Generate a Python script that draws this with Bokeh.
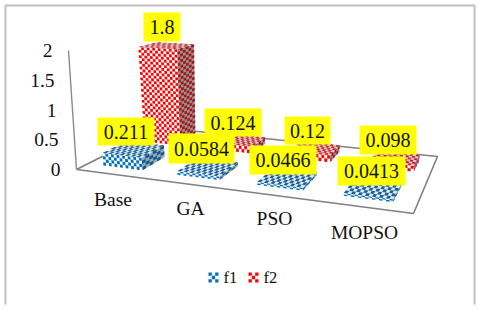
from bokeh.plotting import figure
from bokeh.models import Range1d, ColumnDataSource
from bokeh.embed import file_html
from bokeh.resources import INLINE
from bokeh.core.properties import value
import numpy as np

categories = ["Base", "GA", "PSO", "MOPSO"]
f1 = [0.211, 0.0584, 0.0466, 0.0413]
f2 = [1.8, 0.124, 0.12, 0.098]
f1_labels = ["0.211", "0.0584", "0.0466", "0.0413"]
f2_labels = ["1.8", "0.124", "0.12", "0.098"]
y_ticks = [0, 0.5, 1, 1.5, 2]
y_tick_labels = ["0", "0.5", "1", "1.5", "2"]

# layout only
F1_BOX = [(97, 154, 117, 145), (168, 234, 133, 163), (249, 316, 145, 174), (337, 405, 156, 185)]
F2_BOX = [(143, 180, 12, 41), (204, 261, 108, 136), (284, 330, 116, 144), (359, 416, 125, 154)]
CAT_POS = [(112.5, 199), (190, 208), (274, 218), (364, 232)]
FONT = value("Liberation Serif")

FL, FR, BR, BL = (76, 169), (413, 213), (437, 156), (159, 127)

def homography(src, dst):
    A, b = [], []
    for (u, v), (x, y) in zip(src, dst):
        A.append([u, v, 1, 0, 0, 0, -u * x, -v * x]); b.append(x)
        A.append([0, 0, 0, u, v, 1, -u * y, -v * y]); b.append(y)
    h = np.linalg.solve(np.array(A, float), np.array(b, float))
    return np.append(h, 1).reshape(3, 3)

H = homography([(0, 0), (1, 0), (1, 1), (0, 1)], [FL, FR, BR, BL])

def project(u, v, w=0.0):
    q = H @ np.array([u, v, 1.0])
    x, y = q[0] / q[2], q[1] / q[2]
    h = w * (59.5 + 0.25 * (y - 169))
    tilt = min(max((210 - x) * 0.001, 0), 0.067)
    return np.array([x - h * tilt, y - h])

p = figure(width=480, height=314, x_range=Range1d(0, 480), y_range=Range1d(314, 0),
           toolbar_location=None, output_backend="svg", x_axis_location=None, y_axis_location=None,
           min_border=0, outline_line_color=None, margin=(0, 0, 0, 0))
p.grid.visible = False
p.background_fill_color = "white"

# page frame
p.line([5, 5, 474, 474], [304, 5, 5, 304], line_color="#bfbfbf", line_width=2)

# floor and axis
fx = [FL[0], FR[0], BR[0], BL[0], FL[0]]
fy = [FL[1], FR[1], BR[1], BL[1], FL[1]]
p.line(fx, fy, line_color="#808080", line_width=1.6)
ax_base = project(0, 0, 0)
ax_top = project(0, 0, max(y_ticks))
p.line([ax_base[0], ax_top[0]], [ax_base[1], ax_top[1]], line_color="#8a8a8a", line_width=1.4)

for t, lab in zip(y_ticks, y_tick_labels):
    a = project(0, 0, t)
    p.text([a[0] - 16], [a[1]], text=[lab], text_font=FONT, text_font_size="19.5px",
           text_align="right", text_baseline="middle", text_color="#111111")

def checker_face(c00, c10, c01, c11, nu, nv, light, dark):
    xs, ys = [], []
    for i in range(nu):
        for j in range(nv):
            if (i + j) % 2:
                continue
            def pt(a, b):
                return (1 - a) * (1 - b) * c00 + a * (1 - b) * c10 + (1 - a) * b * c01 + a * b * c11
            a0, a1, b0, b1 = i / nu, (i + 1) / nu, j / nv, (j + 1) / nv
            q = [pt(a0, b0), pt(a1, b0), pt(a1, b1), pt(a0, b1)]
            xs.append([float(c[0]) for c in q])
            ys.append([float(c[1]) for c in q])
    p.patch([float(c00[0]), float(c10[0]), float(c11[0]), float(c01[0])],
            [float(c00[1]), float(c10[1]), float(c11[1]), float(c01[1])],
            fill_color=light, line_color=None)
    p.patches(xs, ys, fill_color=dark, line_color=None)

BAR_W = 0.134
def bar(i, u_start, u_step, v0, v1, val, colors):
    uc = u_start + i * u_step
    u0, u1 = uc - BAR_W / 2, uc + BAR_W / 2
    f0, f_1, b1 = project(u0, v0), project(u1, v0), project(u1, v1)
    t00, t10, t01, t11 = project(u0, v0, val), project(u1, v0, val), project(u0, v1, val), project(u1, v1, val)
    nr = max(2, int(round(np.linalg.norm(f0 - t00) / 2.8)))
    # side
    checker_face(f_1, b1, t10, t11, 6, nr, colors["side_l"], colors["side_d"])
    # front
    checker_face(f0, f_1, t00, t10, 14, nr, "#ffffff", colors["front"])
    # top
    checker_face(t00, t10, t01, t11, 14, 6, colors["top_l"], colors["top_d"])

RED = dict(front="#ff0000", side_l="#b08a8a", side_d="#8f1f1f", top_l="#f0cccc", top_d="#b8272e")
BLUE = dict(front="#0070c0", side_l="#8fabc0", side_d="#1a5682", top_l="#e0eaf2", top_d="#1c5f95")

for i, val in enumerate(f2):
    bar(i, 0.107, 0.259, 0.65, 0.88, val, RED)
for i, val in enumerate(f1):
    bar(i, 0.12, 0.25, 0.12, 0.39, val, BLUE)

# labels
for boxes, labs in ((F2_BOX, f2_labels), (F1_BOX, f1_labels)):
    for (x0, x1, y0, y1), lab in zip(boxes, labs):
        p.quad(left=[x0], right=[x1], top=[y0], bottom=[y1], fill_color="#ffff00", line_color=None)
        p.text([(x0 + x1) / 2], [(y0 + y1) / 2], text=[lab], text_font=FONT, text_font_size="20px",
               text_align="center", text_baseline="middle", text_color="#111111")

for (cx, cy), lab in zip(CAT_POS, categories):
    p.text([cx], [cy], text=[lab], text_font=FONT, text_font_size="19.5px",
           text_align="center", text_baseline="middle", text_color="#111111")

# legend
for x0, name, col in ((208, "f1", "#0070c0"), (248, "f2", "#ff0000")):
    a = np.array
    checker_face(a([x0, 272.]), a([x0 + 10, 272.]), a([x0, 282.]), a([x0 + 10, 282.]), 3, 3, "#ffffff", col)
    p.text([x0 + 15], [277], text=[name], text_font=FONT, text_font_size="16.5px",
           text_align="left", text_baseline="middle", text_color="#111111")

open("out.html", "w").write(file_html(p, INLINE))
